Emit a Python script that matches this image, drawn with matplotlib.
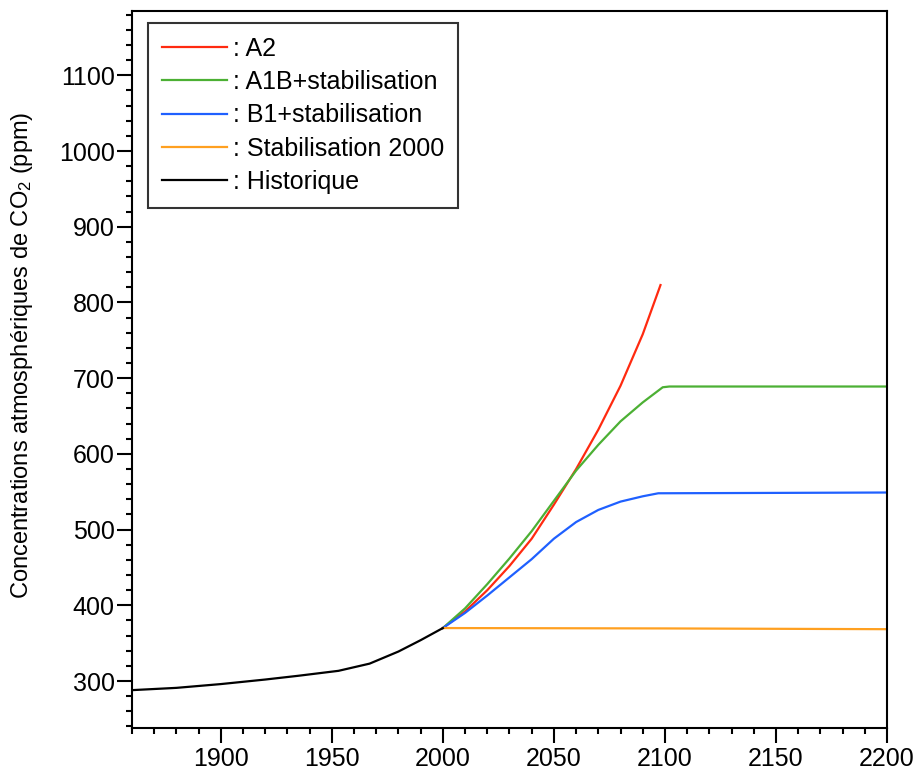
import matplotlib
matplotlib.use("Agg")
import matplotlib.pyplot as plt
from matplotlib.ticker import MultipleLocator

plt.rcParams['font.family'] = ['Liberation Sans', 'DejaVu Sans']
plt.rcParams['mathtext.fontset'] = 'custom'
plt.rcParams['mathtext.rm'] = 'Liberation Sans'
plt.rcParams['mathtext.it'] = 'Liberation Sans:italic'

# Data
hist_years = [1860, 1880, 1900, 1920, 1935, 1953, 1967, 1980, 1990, 2000]
hist_vals = [288, 291, 296, 302, 307, 313.5, 323, 339, 354, 370]

a2_years = [2000, 2010, 2020, 2030, 2040, 2050, 2060, 2070, 2080, 2090, 2098]
a2_vals = [370, 392, 420, 452, 488, 533, 580, 632, 690, 758, 823]

a1b_years = [2000, 2010, 2020, 2030, 2040, 2050, 2060, 2070, 2080, 2090, 2099, 2102, 2150, 2200]
a1b_vals = [370, 396, 428, 462, 498, 538, 578, 612, 643, 668, 688, 689, 689, 689]

b1_years = [2000, 2010, 2020, 2030, 2040, 2050, 2060, 2070, 2080, 2090, 2097, 2150, 2200]
b1_vals = [370, 390, 413, 437, 461, 488, 510, 526, 537, 544, 548, 548.5, 549]

stab_years = [2000, 2100, 2200]
stab_vals = [370, 369.5, 368.5]

labels = [": A2", ": A1B+stabilisation", ": B1+stabilisation", ": Stabilisation 2000", ": Historique"]
colors = ["#ff2a10", "#4cb034", "#1f60ff", "#ffa020", "#000000"]

fig = plt.figure(figsize=(9.17, 7.72), dpi=100)
ax = fig.add_axes([0.1439, 0.057, 0.9673 - 0.1439, 0.9858 - 0.057])

lw = 1.6
l_a2, = ax.plot(a2_years, a2_vals, color=colors[0], lw=lw)
l_a1b, = ax.plot(a1b_years, a1b_vals, color=colors[1], lw=lw)
l_b1, = ax.plot(b1_years, b1_vals, color=colors[2], lw=lw)
l_st, = ax.plot(stab_years, stab_vals, color=colors[3], lw=lw)
l_h, = ax.plot(hist_years, hist_vals, color=colors[4], lw=lw)

ax.set_xlim(1860, 2200)
ax.set_ylim(238, 1185)
ax.xaxis.set_minor_locator(MultipleLocator(10))
ax.yaxis.set_minor_locator(MultipleLocator(20))
ax.set_xticks([1900, 1950, 2000, 2050, 2100, 2150, 2200])
ax.set_yticks([300, 400, 500, 600, 700, 800, 900, 1000, 1100])

for s in ax.spines.values():
    s.set_linewidth(1.5)
ax.tick_params(axis='both', which='major', direction='out', length=10.5, width=1.5,
               labelsize=18, pad=2)
ax.tick_params(axis='both', which='minor', direction='out', length=4.5, width=1.5)
ax.tick_params(axis='x', which='major', pad=3)

ax.set_ylabel("Concentrations atmosphériques de CO$_2$ (ppm)", fontsize=17)
ax.yaxis.set_label_coords(-0.128, 0.52)

leg = ax.legend([l_a2, l_a1b, l_b1, l_st, l_h], labels, loc='upper left',
                bbox_to_anchor=(0.0212, 0.983), borderaxespad=0, fontsize=18,
                fancybox=False, frameon=True, handlelength=2.6, handletextpad=0.25,
                labelspacing=0.37, borderpad=0.55)
leg.get_frame().set_edgecolor('black')
leg.get_frame().set_linewidth(1.5)

fig.savefig("out.png", dpi=100)
